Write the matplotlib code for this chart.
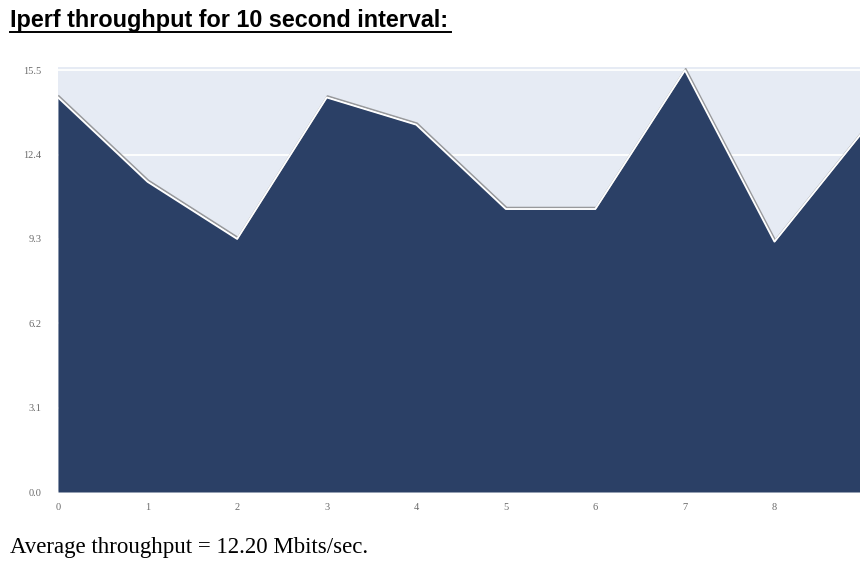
import matplotlib
matplotlib.use("Agg")
import matplotlib.pyplot as plt
import matplotlib.patheffects as pe
from matplotlib.lines import Line2D

# Iperf throughput samples (Mbits/sec), one per second
seconds = [0, 1, 2, 3, 4, 5, 6, 7, 8, 9]
throughput = [14.5, 11.4, 9.3, 14.5, 13.5, 10.4, 10.4, 15.5, 9.2, 13.3]
y_ticks = [0.0, 3.1, 6.2, 9.3, 12.4, 15.5]
x_ticks = [0, 1, 2, 3, 4, 5, 6, 7, 8]

fill_color = "#2b4066"
bg_color = "#e6ebf4"

fig = plt.figure(figsize=(8.6, 5.63), dpi=100)
W, H = 860, 563

# plot area in pixel terms
left_px, right_px, top_px, bottom_px = 58, 864, 67, 492
ax = fig.add_axes([left_px / W, 1 - bottom_px / H,
                   (right_px - left_px) / W, (bottom_px - top_px) / H])
ax.set_facecolor(bg_color)
for s in ax.spines.values():
    s.set_visible(False)

ax.set_xlim(0, 9)
ax.set_ylim(0, 15.62)
ax.set_yticks(y_ticks)
ax.set_yticklabels([f"{v:.1f}" for v in y_ticks])
ax.set_xticks(x_ticks)
ax.set_xticklabels([str(v) for v in x_ticks])
ax.tick_params(axis="y", length=0, labelsize=7.5, labelcolor="#6a6a6a", pad=12)
ax.tick_params(axis="x", length=0, labelsize=7.5, labelcolor="#6a6a6a", pad=8)
for lab in ax.get_xticklabels() + ax.get_yticklabels():
    lab.set_fontfamily("Liberation Serif")
ax.grid(axis="y", color="white", linewidth=1.3)
ax.set_axisbelow(True)

ax.fill_between(seconds, throughput, 0, color=fill_color, zorder=2, linewidth=0)
ax.plot(seconds, throughput, color="white", linewidth=1.3, zorder=3,
        path_effects=[pe.SimpleLineShadow(offset=(0.6, 1.0), shadow_color="#777777", alpha=0.7),
                      pe.Normal()])

# title with underline
fig.text(10 / W, 1 - 21 / H, "Iperf throughput for 10 second interval:",
         fontsize=16.8, fontweight="bold", family="Liberation Sans",
         color="black", va="center", ha="left")
fig.add_artist(Line2D([10 / W, 451 / W], [1 - 31.5 / H, 1 - 31.5 / H],
                      color="black", linewidth=1.4))

fig.text(10 / W, 1 - 548 / H, "Average throughput = 12.20 Mbits/sec.",
         fontsize=16.5, family="Liberation Serif", color="black",
         va="center", ha="left")

fig.savefig("out.png", dpi=100)
